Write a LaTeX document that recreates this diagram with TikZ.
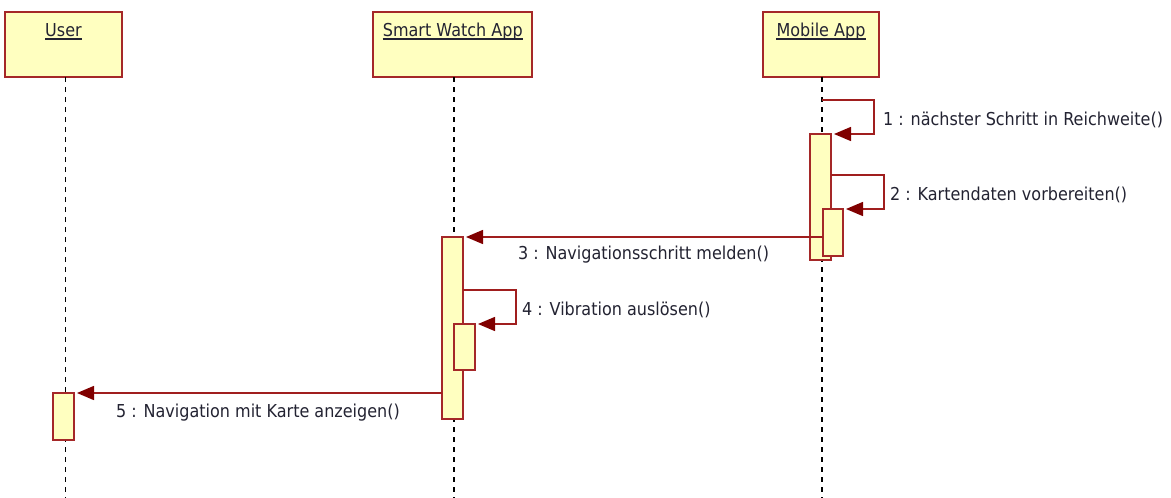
\documentclass[tikz,border=0pt]{standalone}
\usepackage{fontspec}
\setmainfont{DejaVu Sans}[FakeStretch=0.9]
\usetikzlibrary{arrows.meta}

\definecolor{boxfill}{RGB}{255,255,192}
\definecolor{boxline}{RGB}{165,40,40}
\definecolor{msgline}{RGB}{160,30,30}
\definecolor{tipred}{RGB}{128,0,0}
\definecolor{txt}{RGB}{35,35,50}

\tikzset{
  head/.style={draw=boxline, fill=boxfill, line width=2pt, outer sep=0pt,
               minimum height=65pt, inner sep=0pt},
  headtext/.style={anchor=base, inner sep=0pt, text=txt,
                   font=\fontsize{17.8}{20}\selectfont},
  act/.style={draw=boxline, fill=boxfill, line width=1.6pt, outer sep=0pt,
              inner sep=0pt, anchor=north west},
  lifeline/.style={draw=black, line width=1.8pt, dash pattern=on 5pt off 5pt},
  msg/.style={draw=msgline, line width=1.5pt,
              -{Triangle[length=17pt,width=14pt,color=tipred]}, shorten >=3pt},
  msglabel/.style={anchor=west, inner sep=0pt, text=txt,
                   font=\fontsize{17.8}{20}\selectfont},
  uline/.style={draw=txt, line width=1.4pt}
}

\begin{document}
\begin{tikzpicture}[x=1pt, y=-1pt]
\useasboundingbox[fill=white] (0,0) rectangle (1171,498);

% object heads
\node[head, minimum width=117pt] (user)   at (63.5,44.5) {};
\node[head, minimum width=159pt] (watch)  at (452.8,44.5) {};
\node[head, minimum width=116pt] (mobile) at (821,44.5) {};

\node[headtext] (userT)   at (63.5,36)  {User};
\node[headtext] (watchT)  at (452.8,36) {Smart Watch App};
\node[headtext] (mobileT) at (821,36)   {Mobile App};
\foreach \t in {userT, watchT, mobileT}
  \draw[uline] ([yshift=-3pt]\t.base west) -- ([yshift=-3pt]\t.base east);

% lifelines
\coordinate (userL)   at (65.5,498);
\coordinate (watchL)  at (454.3,498);
\coordinate (mobileL) at (822,498);
\draw[lifeline] (userL |- user.south)     -- (userL);
\draw[lifeline] (watchL |- watch.south)   -- (watchL);
\draw[lifeline] (mobileL |- mobile.south) -- (mobileL);

% activation bars
\node[act, minimum width=21pt, minimum height=126pt] (ma) at (810,134) {};
\node[act, minimum width=20pt, minimum height=47pt]  (mb) at (823,209) {};
\node[act, minimum width=21pt, minimum height=182pt] (wa) at (442,237) {};
\node[act, minimum width=21pt, minimum height=46pt]  (wb) at (454,324) {};
\node[act, minimum width=21pt, minimum height=47pt]  (ua) at (53,393) {};

% message route corners
\coordinate (m1s) at (822,100);
\coordinate (m1r) at (874,100);
\coordinate (m2s) at (831,175);
\coordinate (m2r) at (884,175);
\coordinate (m4s) at (463,290);
\coordinate (m4r) at (516,290);

% messages
\draw[msg] (m1s) -- (m1r) |- (ma.north east);
\draw[msg] (m2s) -- (m2r) |- (mb.north east);
\draw[msg] (mb.west |- wa.north) -- (wa.north east);
\draw[msg] (m4s) -- (m4r) |- (wb.north east);
\draw[msg] (wa.west |- ua.north) -- (ua.north east);

% message labels
\node[msglabel] (l1) at (883,119.5) {1 : nächster Schritt in Reichweite()};
\node[msglabel] (l2) at (890,194.5) {2 : Kartendaten vorbereiten()};
\node[msglabel] (l3) at (518,254.5) {3 : Navigationsschritt melden()};
\node[msglabel] (l4) at (522,310)   {4 : Vibration auslösen()};
\node[msglabel] (l5) at (116,412.5) {5 : Navigation mit Karte anzeigen()};
\end{tikzpicture}
\end{document}
